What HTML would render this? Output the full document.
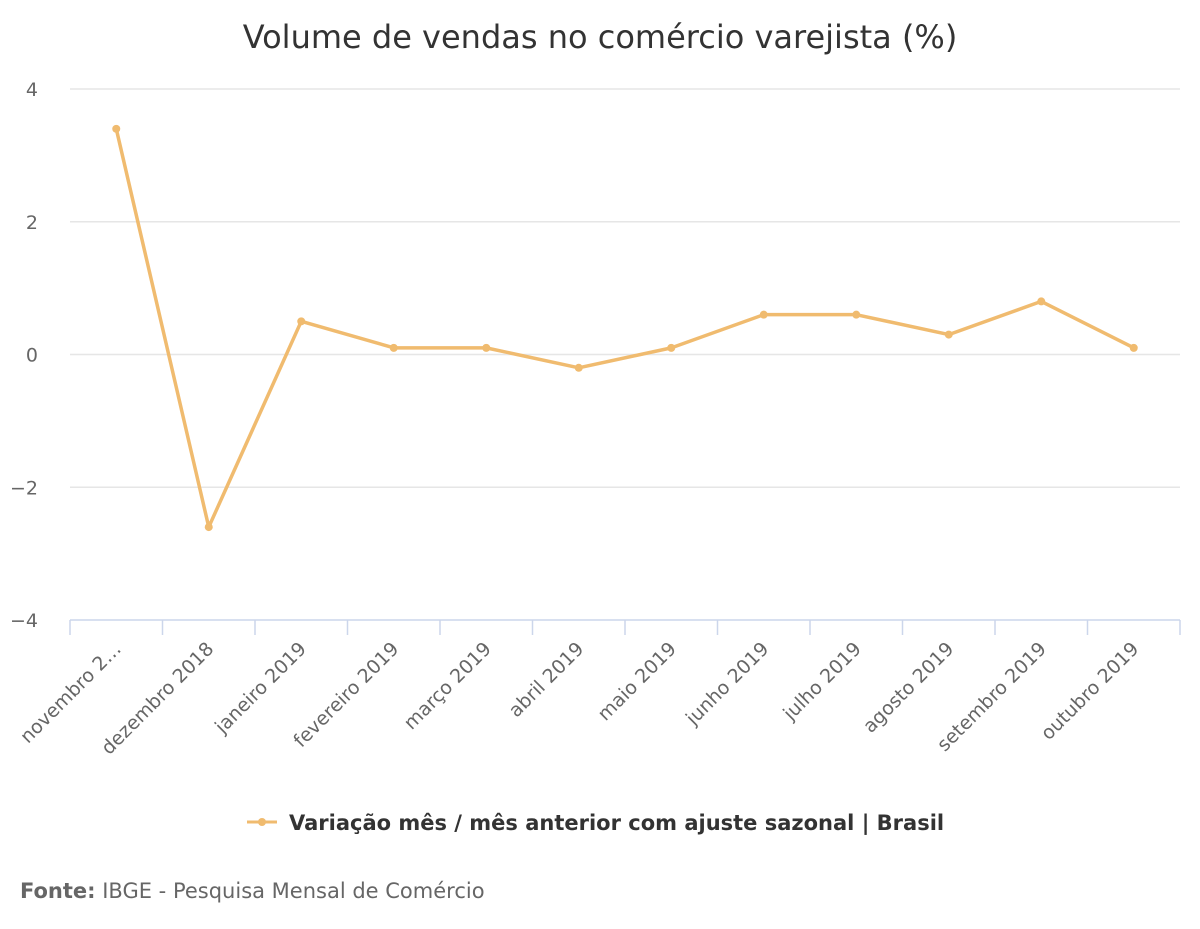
<!DOCTYPE html>
<html><head><meta charset="utf-8"><style>
html,body{margin:0;padding:0;background:#fff;width:1200px;height:929px;overflow:hidden;font-family:"DejaVu Sans","Liberation Sans",sans-serif}
</style></head><body>
<svg id="chart" width="1200" height="929" xmlns="http://www.w3.org/2000/svg" font-family="DejaVu Sans, Liberation Sans, sans-serif">
<text x="600" y="48" text-anchor="middle" font-size="32" fill="#333">Volume de vendas no comércio varejista (%)</text>
<g id="grid"></g><g id="xaxis"></g><g id="series"></g>
<g>
<line x1="247" y1="822" x2="277" y2="822" stroke="#f0bb6f" stroke-width="3"/>
<circle cx="262" cy="822" r="4" fill="#f0bb6f"/>
<text x="289" y="830" font-size="21" font-weight="bold" fill="#333">Variação mês / mês anterior com ajuste sazonal | Brasil</text>
</g>
<text x="20" y="898" font-size="21" fill="#666"><tspan font-weight="bold">Fonte:</tspan> IBGE - Pesquisa Mensal de Comércio</text>
</svg>
<script>
const categories=["novembro 2…","dezembro 2018","janeiro 2019","fevereiro 2019","março 2019","abril 2019","maio 2019","junho 2019","julho 2019","agosto 2019","setembro 2019","outubro 2019"];
const values=[3.4,-2.6,0.5,0.1,0.1,-0.2,0.1,0.6,0.6,0.3,0.8,0.1];
const yTicks=[4,2,0,-2,-4];
const NS="http://www.w3.org/2000/svg";
const L=70,R=1180,T=89,B=620,yMin=-4,yMax=4;
const yS=v=>B-(v-yMin)/(yMax-yMin)*(B-T);
const bw=(R-L)/categories.length;
const xS=i=>L+bw*(i+0.5);
function mk(tag,attrs,parent){const e=document.createElementNS(NS,tag);for(const k in attrs)e.setAttribute(k,attrs[k]);parent.appendChild(e);return e;}
const grid=document.getElementById('grid');
yTicks.forEach(t=>{
  const l=mk('line',{x1:L,x2:R,y1:yS(t),y2:yS(t),stroke:t===yMin?'#ccd6eb':'#e6e6e6','stroke-width':1.5},grid);
  
  
  const tx=mk('text',{x:38,y:yS(t)+7,'text-anchor':'end','font-size':19,fill:'#666'},grid);
  tx.textContent=t<0?'−'+Math.abs(t):String(t);
  
  
});
const xa=document.getElementById('xaxis');
for(let i=0;i<=categories.length;i++){
  const x=L+bw*i;
  const tk=mk('line',{x1:x,x2:x,y1:B,y2:B+15,stroke:'#ccd6eb','stroke-width':1.5},xa);
  
  
}
categories.forEach((c,i)=>{
  const x=xS(i)+6,y=B+30;
  const tx=mk('text',{x:x,y:y,'text-anchor':'end','font-size':19,fill:'#666',transform:`rotate(-45 ${x} ${y})`},xa);
  tx.textContent=c;
  
  
});
const s=document.getElementById('series');
const pl=mk('polyline',{points:values.map((v,i)=>xS(i)+','+yS(v)).join(' '),fill:'none',stroke:'#f0bb6f','stroke-width':3.5,'stroke-linejoin':'round'},s);


values.forEach((v,i)=>{
  const c=mk('circle',{cx:xS(i),cy:yS(v),r:4,fill:'#f0bb6f'},s);
  
  
});
</script>
</body></html>
